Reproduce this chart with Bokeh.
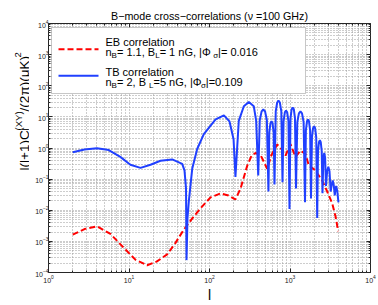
import math
from bokeh.plotting import figure
from bokeh.layouts import row
from bokeh.models import Range1d, FixedTicker, LogAxis, Label, BoxAnnotation, Arrow
from bokeh.embed import file_html
from bokeh.resources import INLINE

# ---------------- data ----------------
tb_l = [2.0, 2.8, 4.0, 5.6, 7.8, 10.4, 13.9, 18.5, 24.6, 34.4, 45.8, 48.9, 51.1, 51.8, 53.3, 55.3,
        61.0, 70.3, 85, 119, 151, 177, 199, 210,
        231, 267, 308, 355, 380, 403,
        421, 444, 466, 490, 516, 540,
        553, 572, 589, 607, 626, 642,
        665, 693, 720, 748, 780, 807,
        832, 863, 892, 923, 957, 986,
        1014, 1047, 1081, 1117, 1153, 1187,
        1233, 1290, 1349, 1410, 1476, 1536,
        1575, 1626, 1674, 1722, 1778, 1823,
        1874, 1932, 1993, 2054, 2118, 2177,
        2228, 2291, 2350, 2410, 2477, 2533,
        2600, 2665, 2729, 2800,
        2894, 2992, 3094, 3200,
        3296, 3393, 3493, 3600,
        3680, 3750, 3870, 4000]
tb_c = [0.73, 0.90, 0.98, 0.86, 0.52, 0.29, 0.23, 0.29, 0.39, 0.43, 0.31, 0.19, 0.05, 2.5e-4, 5.6e-3, 0.019,
        0.215, 0.93, 2.8, 8.3, 11.2, 7.2, 1.9, 0.117,
        7.4, 22, 30, 22, 7.4, 0.13,
        7.8, 15, 17.3, 15, 7.8, 0.040,
        3.2, 6.3, 7.2, 6.3, 3.2, 0.067,
        15, 29, 33.4, 29, 15, 0.08,
        7.2, 14, 16.1, 14, 7.2, 0.011,
        9, 17.4, 20, 17.4, 9, 0.05,
        6.8, 13, 15, 13, 6.8, 0.018,
        3.7, 7.2, 8.3, 7.2, 3.7, 0.024,
        2.2, 4.3, 5.0, 4.3, 2.2, 0.0056,
        0.8, 1.55, 1.8, 1.55, 0.8, 0.035,
        0.5, 0.7, 0.5, 0.06,
        0.18, 0.25, 0.18, 0.04,
        0.065, 0.09, 0.065, 0.03,
        0.05, 0.06, 0.04, 0.018]

eb_l = [2.0, 2.8, 4.03, 5.89, 8.62, 12.0, 16.8, 22.0, 29.8, 37.8, 47.9, 61.5, 77.3, 103, 137, 172,
        210, 243, 294, 332, 373, 430, 521, 589, 693, 784, 879, 1014, 1170, 1350, 1557, 1712,
        2074, 2512, 2898, 3344, 3675, 3970]
eb_c = [1.64e-3, 2.49e-3, 3.04e-3, 1.73e-3, 6.2e-4, 2.59e-4, 1.71e-4, 2.23e-4, 3.81e-4, 8.96e-4,
        2.37e-3, 5.57e-3, 0.0116, 0.0259, 0.0347, 0.0299, 0.0223, 0.0499, 0.268, 0.557, 0.693,
        0.600, 0.215, 0.600, 1.29, 0.93, 0.57, 1.34, 0.52, 0.82, 0.645, 0.274, 0.19, 0.0895,
        0.040, 0.0167, 6.45e-3, 2.11e-3]

x_major = [1, 10, 100, 1000, 10000]
y_major = [1e-4, 1e-3, 1e-2, 1e-1, 1, 10, 100, 1000, 10000]

title_text = "B\u2212mode cross\u2212correlations (\u03bd =100 GHz)"
leg1_title = "EB correlation"
leg1_segs = [("n", "n"), ("sub", "B"), ("n", "= 1.1, B"), ("sub", "L"), ("n", " = 1 nG, |\u03a6"),
             ("sub", "\u03c3"), ("n", "|= 0.016")]
leg2_title = "TB correlation"
leg2_segs = [("n", "n"), ("sub", "B"), ("n", " = 2, B"), ("sub", "L"), ("n", "=5 nG, |\u03a6"),
             ("sub", "\u03c3"), ("n", "|=0.109")]
ylab_segs = [("n", "l(l+1)C"), ("subsup", ("l", "(XY)")), ("n", "/(2\u03c0)(\u03bcK)"), ("sup", "2")]
xlab_text = "l"

# ---------------- layout helpers ----------------
FONT = "Liberation Sans"
W = {' ': 278, '(': 333, ')': 333, '+': 584, ',': 278, '.': 278, '/': 278, '=': 584, '|': 260,
     '\u2212': 584, 'B': 667, 'C': 722, 'E': 667, 'G': 778, 'K': 667, 'L': 556, 'T': 611,
     'X': 667, 'Y': 667, 'a': 556, 'c': 500, 'e': 556, 'i': 222, 'l': 222, 'n': 556, 'o': 556,
     'r': 333, 't': 278, '\u03a6': 760, '\u03c3': 590, '\u03c0': 580, '\u03bc': 576}


def tw(s, size):
    return sum(W.get(ch, 556) for ch in s) * size / 1000.0


def rich(p, x, y, segs, size, small, sub_off, sup_off, angle=0.0):
    pos = 0.0
    for kind, txt in segs:
        if kind == "n":
            parts = [(txt, 0.0, size)]
            adv = tw(txt, size)
        elif kind == "sub":
            parts = [(txt, sub_off, small)]
            adv = tw(txt, small)
        elif kind == "sup":
            parts = [(txt, sup_off, small)]
            adv = tw(txt, small)
        else:
            sb, sp = txt
            parts = [(sb, sub_off, small), (sp, sup_off, small)]
            adv = max(tw(sb, small), tw(sp, small))
        for t, off, fs in parts:
            if angle == 0:
                lx, ly = x + pos, y + off
            else:
                lx, ly = x - off, y + pos
            p.add_layout(Label(x=lx, y=ly, x_units="screen", y_units="screen", text=t,
                               text_font=FONT, text_font_size=f"{fs}px", angle=angle,
                               text_align="left", text_baseline="alphabetic", text_color="black"))
        pos += adv


STRIP_W = 29
# ---------------- y-label strip (its frame is the whole strip) ----------------
yl = figure(width=STRIP_W, height=305, x_range=Range1d(0, 1), y_range=Range1d(0, 1),
            output_backend="svg", toolbar_location=None, min_border=0,
            x_axis_location=None, y_axis_location=None)
yl.outline_line_color = None
yl.background_fill_color = "white"
yl.border_fill_color = "white"
for g in yl.grid:
    g.visible = False
rich(yl, 23.5, 102, ylab_segs, 13.5, 9.5, -1, 6, angle=math.pi / 2)

# ---------------- main figure ----------------
p = figure(width=378 - STRIP_W, height=305, x_axis_type="log", y_axis_type="log",
           x_range=Range1d(1, 1e4), y_range=Range1d(1e-4, 1e4),
           output_backend="svg", toolbar_location=None,
           min_border_left=48 - STRIP_W, min_border_right=8, min_border_top=23, min_border_bottom=30)
p.background_fill_color = "white"
p.border_fill_color = "white"
p.outline_line_color = "#262626"
p.outline_line_width = 1

p.title.text = title_text
p.title.align = "center"
p.title.text_font = FONT
p.title.text_font_size = "10.7px"
p.title.text_font_style = "normal"
p.title.text_color = "black"
p.title.standoff = 4

xt = FixedTicker(ticks=x_major, minor_ticks=[m * 10.0 ** k for k in range(0, 4) for m in range(2, 10)])
yt = FixedTicker(ticks=y_major, minor_ticks=[m * 10.0 ** k for k in range(-4, 4) for m in range(2, 10)])

for ax, tk in ((p.xaxis[0], xt), (p.yaxis[0], yt)):
    ax.ticker = tk
    ax.major_label_text_font = FONT
    ax.major_label_text_font_size = "7px"
    ax.major_label_text_color = "#1a1a1a"
    ax.major_label_standoff = 0
    ax.axis_line_color = None
    ax.major_tick_in = 4
    ax.major_tick_out = 0
    ax.minor_tick_in = 2
    ax.minor_tick_out = 0
    ax.major_tick_line_color = "#262626"
    ax.minor_tick_line_color = "#262626"
p.xaxis[0].major_label_standoff = 2

xa = p.xaxis[0]
xa.axis_label = xlab_text
xa.axis_label_text_font = FONT
xa.axis_label_text_font_size = "14px"
xa.axis_label_text_font_style = "normal"
xa.axis_label_text_color = "black"
xa.axis_label_standoff = 1

for loc, tk in (("above", xt), ("right", yt)):
    ax2 = LogAxis(ticker=tk, major_label_text_font_size="1px", major_label_text_color=None,
                  major_label_standoff=0,
                  axis_line_color=None, major_tick_in=4, major_tick_out=0, minor_tick_in=2,
                  minor_tick_out=0, major_tick_line_color="#262626", minor_tick_line_color="#262626")
    p.add_layout(ax2, loc)

for g in (p.xgrid[0], p.ygrid[0]):
    g.grid_line_color = "#9a9a9a"
    g.grid_line_dash = "1 2"
    g.minor_grid_line_color = "#9a9a9a"
    g.minor_grid_line_dash = "1 2"

# curves
p.line(eb_l, eb_c, line_color="#ff0000", line_width=2, line_dash="6 3")
p.line(tb_l, tb_c, line_color="#2040ff", line_width=2)

# legend (screen units relative to the frame)
p.add_layout(BoxAnnotation(left=3, right=257, bottom=179, top=245, left_units="screen",
                           right_units="screen", top_units="screen", bottom_units="screen",
                           fill_color="white", fill_alpha=1.0, line_color="#444444", line_width=1))
p.add_layout(Arrow(x_start=10, y_start=223.3, x_end=50, y_end=223.3, start_units="screen",
                   end_units="screen", end=None, line_color="#ff0000", line_width=2, line_dash="6 3"))
p.add_layout(Arrow(x_start=10, y_start=196.7, x_end=50, y_end=196.7, start_units="screen",
                   end_units="screen", end=None, line_color="#2040ff", line_width=2))

for txt, yy in ((leg1_title, 230.5), (leg2_title, 200.5)):
    p.add_layout(Label(x=57, y=yy, x_units="screen", y_units="screen", text=txt, text_font=FONT,
                       text_font_size="11px", text_baseline="alphabetic", text_color="black"))
rich(p, 57, 220.5, leg1_segs, 11, 8, -3, 4)
rich(p, 57, 190.5, leg2_segs, 11, 8, -3, 4)

layout = row(yl, p, spacing=0)
open("out.html", "w").write(file_html(layout, INLINE))
